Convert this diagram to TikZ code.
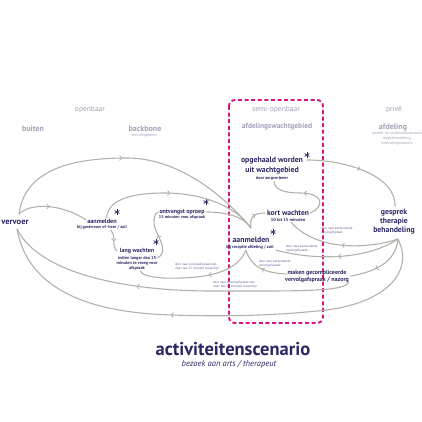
\documentclass[tikz,border=0pt]{standalone}
\usepackage{fontspec}
\setmainfont{PT Sans}
\usetikzlibrary{arrows.meta,decorations.markings,calc}
\definecolor{navy}{RGB}{43,40,100}
\definecolor{hdr}{RGB}{160,160,186}
\definecolor{flow}{RGB}{180,176,170}
\definecolor{mag}{RGB}{214,21,127}
\definecolor{notec}{RGB}{90,90,150}
\newcommand\fs[1]{\fontsize{#1}{#1}\selectfont}
\tikzset{
 every node/.style={inner sep=0pt, outer sep=0pt},
 hdrlab/.style={text=hdr, font=\fs{7.5}},
 hdrbold/.style={text=hdr, font=\bfseries\fs{#1}},
 hdrsmall/.style={text=hdr, font=\fs{4}},
 mainlab/.style={text=navy, font=\bfseries\fs{#1}},
 sublab/.style={text=navy, font=\bfseries\fs{#1}},
 notelab/.style={text=notec, font=\fontsize{3.2}{4}\selectfont, align=left, anchor=west},
 astk/.style={minimum size=6pt, path picture={
   \foreach \a in {90,150,210}{\draw[navy, line width=0.75pt] ($(path picture bounding box.center)+(\a:2.8pt)$) -- ($(path picture bounding box.center)+(\a+180:2.8pt)$);}}},
 flowline/.style={draw=flow, line width=1.1pt},
 arr/.style={postaction={decorate}, decoration={markings, mark=at position #1 with {\arrow{Straight Barb[length=2.2pt,width=5pt,line width=0.8pt]}}}},
 box/.style={draw=mag, line width=1.9pt, dash pattern=on 4pt off 2.6pt, rounded corners=6pt},
}
\begin{document}
\begin{tikzpicture}[x=1pt,y=-1pt]
\useasboundingbox (0,0) rectangle (422,422);
\draw[box] (229,100) rectangle (323,323);
% headers
\node[hdrlab] (openbaar) at (90,110) {openbaar};
\node[hdrbold=8] (buiten) at (33,129) {buiten};
\node[hdrbold=8] (backbone) at (145,129) {backbone};
\node[hdrsmall] (verblijf) at (144,136) {verblijfsgebied};
\node[hdrlab] (semi) at (276,110) {semi-openbaar};
\node[hdrbold=7.5] (afdwacht) at (277,127) {afdelingswachtgebied};
\node[hdrlab] (prive) at (394,110) {privé};
\node[hdrbold=8] (afdeling) at (393,128) {afdeling};
\node[hdrsmall] (spreek) at (397,133.5) {spreek- en onderzoekskamers};
\node[hdrsmall] (dagbeh) at (397,138.5) {dagbehandeling};
\node[hdrsmall] (bestr) at (397,143.5) {bestralingskamers};
% main nodes
\node[mainlab=8.5] (vervoer) at (15,222) {vervoer};
\node[mainlab=6.2] (aan1) at (102,221) {aanmelden};
\node[sublab=4.2] (aan1s) at (102,227) {bij gastvrouw of -heer / zuil};
\node[astk] (ast1) at (117,212) {};
\node[mainlab=6] (ontv) at (182,212) {ontvangst oproep};
\node[sublab=4.2] (ontvs) at (182,217.5) {15 minuten voor afspraak};
\node[astk] (ast2) at (206,202) {};
\node[mainlab=6] (lang) at (137,251) {lang wachten};
\node[text=navy, font=\bfseries\fontsize{4.3}{5}\selectfont, align=center] (langs) at (137,263) {indien langer dan 15\\minuten te vroeg voor\\afspraak};
\node[astk] (ast3) at (156,242) {};
\node[mainlab=7.8] (opg1) at (272,161) {opgehaald worden};
\node[mainlab=7.8] (opg2) at (272,171) {uit wachtgebied};
\node[sublab=4.2] (opgs) at (272,178) {door zorgverlener};
\node[astk] (ast4) at (307,155) {};
\node[mainlab=7.5] (kort) at (288,213) {kort wachten};
\node[sublab=4.4] (korts) at (288,219.5) {10 tot 15 minuten};
\node[mainlab=7.8] (aan2) at (251,240) {aanmelden};
\node[sublab=4.3] (aan2s) at (250,247) {bij receptie afdeling / zuil};
\node[astk] (ast5) at (273,232) {};
\node[mainlab=7.8] (ges1) at (394,213) {gesprek};
\node[mainlab=7.8] (ges2) at (394,222) {therapie};
\node[mainlab=7.8] (ges3) at (394,231) {behandeling};
\node[mainlab=6] (mak1) at (317,273) {maken gecompliceerde};
\node[mainlab=6] (mak2) at (317,280) {vervolgafspraak / nazorg};
% notes
\node[notelab] (n1) at (175,267) {door naar vervolgafspraak met\\meer dan 15 minuten tussentijd};
\node[notelab] (n2) at (213,285) {door naar vervolgafspraak met\\meer dan 15 minuten tussentijd};
\node[notelab] (n3) at (259,263.5) {door naar aansluitende\\vervolgafspraak};
\node[notelab] (n4) at (286,248.5) {door naar aansluitende\\vervolgafspraak};
\node[notelab] (n5) at (321,231) {door naar aansluitende\\vervolgafspraak};
% title
\node[text=navy, font=\bfseries\fs{18.5}] (title) at (233,349) {activiteitenscenario};
\node[text=navy, font=\itshape\fs{8.5}] (subtitle) at (229,364) {bezoek aan arts / therapeut};
% junctions
\coordinate (V) at (19,214);
\coordinate (V2) at (17,229);
\coordinate (F) at (251,228);
\coordinate (G) at (398,239);
% connectors
\draw[flowline, arr=0.46] (V) .. controls (25,168) and (75,158) .. (127,158) .. controls (170,158) and (215,185) .. (F);
\draw[flowline, arr=0.45] (V) .. controls (30,203) and (60,203) .. ($(aan1.west)+(-1,-1)$);
\draw[flowline, arr=0.45] ($(aan1.north east)+(-10,-1)$) .. controls (108,200) and (130,193) .. (165,193) .. controls (200,193) and (235,205) .. (F);
\draw[flowline, arr=0.55] ($(aan1s.south)+(8,1)$) .. controls (118,236) and (110,244) .. ($(lang.west)+(-3,0)$);
\draw[flowline, arr=0.5] ($(langs.east)+(0,-5)$) .. controls (172,250) and (152,232) .. (154,220) .. controls (155,214) and (156,212) .. ($(ontv.west)+(-1,0)$);
\draw[flowline] ($(ontv.east)+(2,0)$) .. controls (225,212) and (243,216) .. (F);
\draw[flowline, arr=0.6] (F) .. controls (249,217) and (254,213) .. ($(kort.west)+(-2,0)$);
\draw[flowline, arr=0.5] ($(kort.east)+(1,0)$) .. controls (325,207) and (324,193) .. (300,193) .. controls (285,193) and (274,190) .. ($(opgs.south)+(2,1)$);
\draw[flowline, arr=0.5] ($(opg1.east)+(4,-1)$) .. controls (345,160) and (396,175) .. ($(ges1.north)+(1,-3)$);
\draw[flowline, arr=0.5] (G) .. controls (365,250) and (315,250) .. ($(korts.south)+(3,1)$);
\draw[flowline, arr=0.5] (G) .. controls (370,258) and (320,262) .. ($(aan2s.east)+(2,3)$);
\draw[flowline, arr=0.6] (G) .. controls (396,262) and (375,272) .. ($(mak1.east)+(4,3)$);
\draw[flowline, arr=0.59] (G) .. controls (416,275) and (380,306) .. (317,311) .. controls (260,317) and (200,316) .. (173,315) .. controls (90,313) and (28,290) .. (V2);
\draw[flowline, arr=0.61] ($(mak2.east)+(0,2)$) .. controls (345,292) and (300,291) .. (211,291) .. controls (130,291) and (40,275) .. (V2);
\draw[flowline, arr=0.4] ($(aan2s.south)+(-4,1)$) .. controls (236,275) and (200,279) .. (163,278) .. controls (150,277) and (142,275) .. ($(langs.south)+(3,1)$);
\draw[flowline, arr=0.5] ($(mak1.west)+(-1,1)$) .. controls (262,273) and (250,265) .. ($(aan2s.south)+(-4,1)$);
\end{tikzpicture}
\end{document}
